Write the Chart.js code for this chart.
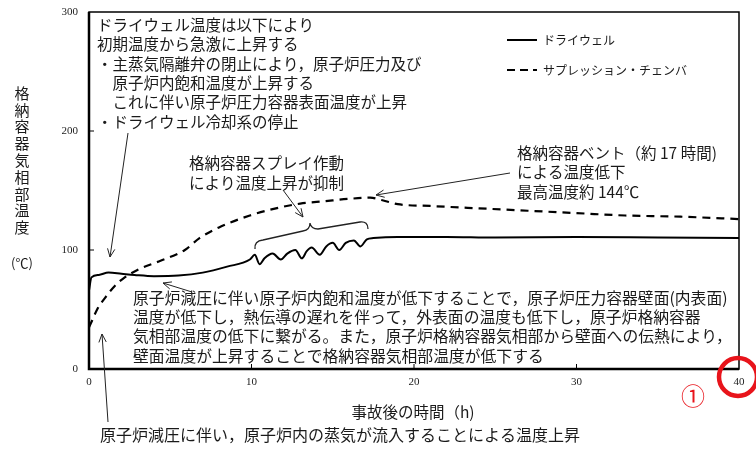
<!DOCTYPE html>
<html lang="ja">
<head>
<meta charset="utf-8">
<script src="https://cdn.jsdelivr.net/npm/chart.js"></script>
<style>
  html, body { margin: 0; padding: 0; background: #fff; }
  #wrap { width: 756px; height: 450px; }
</style>
</head>
<body>
<div id="wrap"><canvas id="tempChart" width="756" height="450"></canvas></div>
<script>
// --- data ---
const drywellTime = [0, 0.15, 0.6, 1.2, 2, 2.8, 4, 5.5, 7, 8.5, 9.9, 10.2, 10.5, 10.8, 11.3, 11.8, 12.2, 12.7, 13.1, 13.4, 13.7, 14.2, 14.6, 15, 15.4, 15.8, 16.3, 16.7, 17.1, 17.5, 19, 22, 25, 30, 35, 40];
const drywellTemp = [66, 77, 79, 81, 80, 79, 78, 78.5, 81, 86, 92, 96, 88, 93, 97, 92, 97, 100, 93, 99, 102, 96, 103, 106, 100, 106, 108, 103, 109, 110, 111, 111, 110.5, 111, 110.5, 110];

const suppTime = [0, 0.2, 0.5, 1, 1.6, 2.2, 3.1, 4.4, 5.9, 6.8, 8, 9.9, 11.5, 13, 14.5, 16, 17.3, 18, 19, 21, 24, 27, 30, 33, 36.4, 40];
const suppTemp = [35, 41, 50, 60, 70, 77, 84, 91, 100, 110, 119, 129, 135, 139, 141, 143, 144, 142, 138.5, 137, 135, 133, 131, 129, 128, 126];

const xTicks = [0, 10, 20, 30, 40];
const yTicks = [0, 100, 200, 300];

const seriesNames = ['ドライウェル', 'サプレッション・チェンバ'];

const JP = '"Noto Sans CJK JP", sans-serif';
const INK = '#1a1a1a';

function toPoints(xs, ys) {
    return xs.map((x, i) => ({ x: x, y: ys[i] }));
}

// simple open arrow head
function arrow(ctx, x1, y1, x2, y2) {
    const a = Math.atan2(y2 - y1, x2 - x1);
    const h = 9, w = 0.42;
    ctx.beginPath();
    ctx.moveTo(x1, y1);
    ctx.lineTo(x2, y2);
    ctx.moveTo(x2 - h * Math.cos(a - w), y2 - h * Math.sin(a - w));
    ctx.lineTo(x2, y2);
    ctx.lineTo(x2 - h * Math.cos(a + w), y2 - h * Math.sin(a + w));
    ctx.stroke();
}

function lines(ctx, list, x, y0, step) {
    list.forEach((t, i) => ctx.fillText(t, x, y0 + i * step));
}

const annotations = {
    id: 'annotations',
    afterDatasetsDraw(chart) {
        const ctx = chart.ctx;
        const a = chart.chartArea;
        const xs = chart.scales.x, ys = chart.scales.y;
        ctx.save();

        // frame
        ctx.strokeStyle = '#000';
        ctx.lineWidth = 1.5;
        ctx.strokeRect(a.left, a.top, a.right - a.left, a.bottom - a.top);
        ctx.lineWidth = 2.5;
        ctx.beginPath();
        ctx.moveTo(a.left, a.top);
        ctx.lineTo(a.left, a.bottom);
        ctx.lineTo(a.right, a.bottom);
        ctx.stroke();

        // inward ticks
        ctx.lineWidth = 1;
        ctx.beginPath();
        xTicks.slice(1, -1).forEach(v => {
            const px = xs.getPixelForValue(v);
            ctx.moveTo(px, a.bottom);
            ctx.lineTo(px, a.bottom - 5);
        });
        yTicks.slice(1, -1).forEach(v => {
            const py = ys.getPixelForValue(v);
            ctx.moveTo(a.left, py);
            ctx.lineTo(a.left + 5, py);
        });
        ctx.stroke();

        // tick labels
        ctx.fillStyle = '#222';
        ctx.font = '11px "Liberation Serif", serif';
        ctx.textBaseline = 'middle';
        ctx.textAlign = 'center';
        xTicks.forEach(v => ctx.fillText(String(v), xs.getPixelForValue(v), a.bottom + 13));
        ctx.textAlign = 'right';
        yTicks.forEach(v => ctx.fillText(String(v), a.left - 11, ys.getPixelForValue(v)));

        // axis titles
        ctx.fillStyle = INK;
        ctx.textAlign = 'center';
        ctx.font = '15px ' + JP;
        Array.from('格納容器気相部温度').forEach((c, i) => ctx.fillText(c, 22, 93 + i * 16.8));
        ctx.font = '13px ' + JP;
        ctx.fillText('(℃)', 22, 263);
        ctx.font = '15.5px ' + JP;
        ctx.fillText('事故後の時間（h)', 413, 412);

        // legend
        ctx.textAlign = 'left';
        ctx.font = '12px ' + JP;
        ctx.lineWidth = 2;
        ctx.beginPath();
        ctx.moveTo(507, 40); ctx.lineTo(537, 40);
        ctx.stroke();
        ctx.setLineDash([8, 5]);
        ctx.beginPath();
        ctx.moveTo(507, 70); ctx.lineTo(537, 70);
        ctx.stroke();
        ctx.setLineDash([]);
        ctx.fillText(seriesNames[0], 543, 40);
        ctx.fillText(seriesNames[1], 543, 70);

        // text blocks
        ctx.font = '15.5px ' + JP;
        lines(ctx, [
            'ドライウェル温度は以下により',
            '初期温度から急激に上昇する',
            '・主蒸気隔離弁の閉止により，原子炉圧力及び',
            '　原子炉内飽和温度が上昇する',
            '　これに伴い原子炉圧力容器表面温度が上昇',
            '・ドライウェル冷却系の停止'
        ], 97, 25, 19.4);

        lines(ctx, [
            '格納容器スプレイ作動',
            'により温度上昇が抑制'
        ], 189, 163, 20);

        lines(ctx, [
            '格納容器ベント（約 17 時間)',
            'による温度低下',
            '最高温度約 144℃'
        ], 517, 153, 19.5);

        ctx.font = '15.8px ' + JP;
        lines(ctx, [
            '原子炉減圧に伴い原子炉内飽和温度が低下することで，原子炉圧力容器壁面(内表面)',
            '温度が低下し，熱伝導の遅れを伴って，外表面の温度も低下し，原子炉格納容器',
            '気相部温度の低下に繋がる。また，原子炉格納容器気相部から壁面への伝熱により，',
            '壁面温度が上昇することで格納容器気相部温度が低下する'
        ], 133, 298, 19.2);

        ctx.font = '16px ' + JP;
        ctx.fillText('原子炉減圧に伴い，原子炉内の蒸気が流入することによる温度上昇', 100, 435);

        // arrows
        ctx.strokeStyle = '#222';
        ctx.lineWidth = 1;
        arrow(ctx, 128, 133, 110, 257);
        arrow(ctx, 283, 190, 303, 217);
        arrow(ctx, 510, 173, 376, 195);
        arrow(ctx, 192, 292, 163, 283);
        arrow(ctx, 108, 422, 102, 334);

        // brace over the spray oscillations
        ctx.lineWidth = 1.3;
        ctx.beginPath();
        ctx.moveTo(255, 249);
        ctx.quadraticCurveTo(254, 241, 263, 240);
        ctx.lineTo(303, 231);
        ctx.quadraticCurveTo(310, 230, 310, 223);
        ctx.quadraticCurveTo(311, 229, 318, 229);
        ctx.lineTo(360, 222);
        ctx.quadraticCurveTo(368, 221, 368, 229);
        ctx.stroke();

        // red marker
        ctx.strokeStyle = '#e8141b';
        ctx.lineWidth = 4.5;
        ctx.beginPath();
        ctx.arc(738, 377, 19, 0, Math.PI * 2);
        ctx.stroke();
        ctx.fillStyle = '#e8141b';
        ctx.textAlign = 'center';
        ctx.font = '24px ' + JP;
        ctx.fillText('①', 693, 396);

        ctx.restore();
    }
};

new Chart(document.getElementById('tempChart'), {
    type: 'line',
    data: {
        datasets: [
            {
                label: seriesNames[0],
                data: toPoints(drywellTime, drywellTemp),
                borderColor: '#000',
                borderWidth: 2,
                pointRadius: 0,
                cubicInterpolationMode: 'monotone'
            },
            {
                label: seriesNames[1],
                data: toPoints(suppTime, suppTemp),
                borderColor: '#000',
                borderWidth: 2.2,
                borderDash: [8, 6],
                pointRadius: 0,
                cubicInterpolationMode: 'monotone'
            }
        ]
    },
    options: {
        responsive: false,
        animation: false,
        devicePixelRatio: 1,
        layout: { padding: { left: 89, right: 17, top: 12, bottom: 81 } },
        plugins: {
            legend: { display: false },
            tooltip: { enabled: false }
        },
        scales: {
            x: { type: 'linear', min: 0, max: 40, display: false },
            y: { min: 0, max: 300, display: false }
        }
    },
    plugins: [annotations]
});
</script>
</body>
</html>
